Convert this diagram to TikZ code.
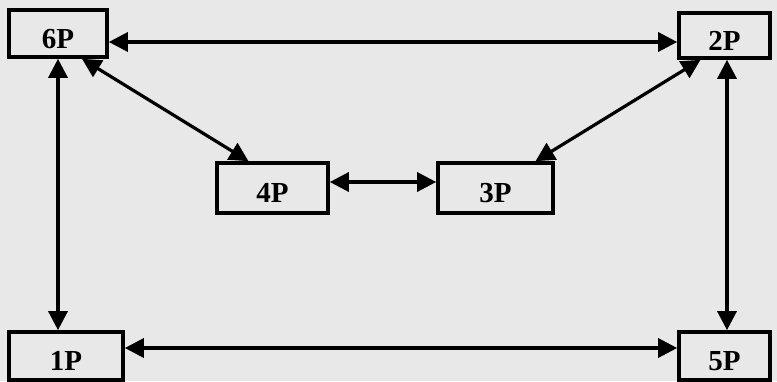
\documentclass[tikz,border=0pt]{standalone}
\usepackage{fontspec}
\setmainfont{Liberation Serif}
\usetikzlibrary{arrows.meta}
\definecolor{papier}{gray}{0.91}
\tikzset{
  rbox/.style={draw, line width=3.6pt, fill=papier, inner sep=0pt,
    font=\fontsize{29}{29}\selectfont\bfseries, text height=29pt, text depth=0pt},
  link/.style={line width=3.2pt, {Triangle[length=19pt,width=19pt]}-{Triangle[length=19pt,width=19pt]}}
}
\begin{document}
\begin{tikzpicture}[x=1pt, y=-1pt]
    %------------Fond----------
    \fill[papier] (0,0) rectangle (777,381);
    \useasboundingbox (0,0) rectangle (777,381);
    %------------Blocs----------
    \node[rbox, minimum width=98pt,  minimum height=47pt] (p6) at (58,33.5) {6P};
    \node[rbox, minimum width=91pt,  minimum height=45pt] (p2) at (724.5,35.5) {2P};
    \node[rbox, minimum width=111pt, minimum height=50pt] (p4) at (272.5,188) {4P};
    \node[rbox, minimum width=115pt, minimum height=50pt] (p3) at (495.5,188) {3P};
    \node[rbox, minimum width=114pt, minimum height=48pt] (p1) at (66,356) {1P};
    \node[rbox, minimum width=91pt,  minimum height=48pt] (p5) at (724.5,356) {5P};
    %------------Liens----------
    \draw[link] ([yshift=-8.5pt]p6.east) -- ([yshift=-8.5pt]p6.east -| p2.west);
    \draw[link] ([xshift=24pt]p6.south) -- ([xshift=-24pt]p4.north);
    \draw[link] ([yshift=6pt]p4.east) -- ([yshift=6pt]p4.east -| p3.west);
    \draw[link] ([xshift=40pt]p3.north) -- ([xshift=-24pt]p2.south);
    \draw[link] (p6.south) -- (p6.south |- p1.north);
    \draw[link] ([xshift=2.5pt]p2.south) -- ([xshift=2.5pt]p2.south |- p5.north);
    \draw[link] ([yshift=8pt]p1.east) -- ([yshift=8pt]p1.east -| p5.west);
\end{tikzpicture}
\end{document}
